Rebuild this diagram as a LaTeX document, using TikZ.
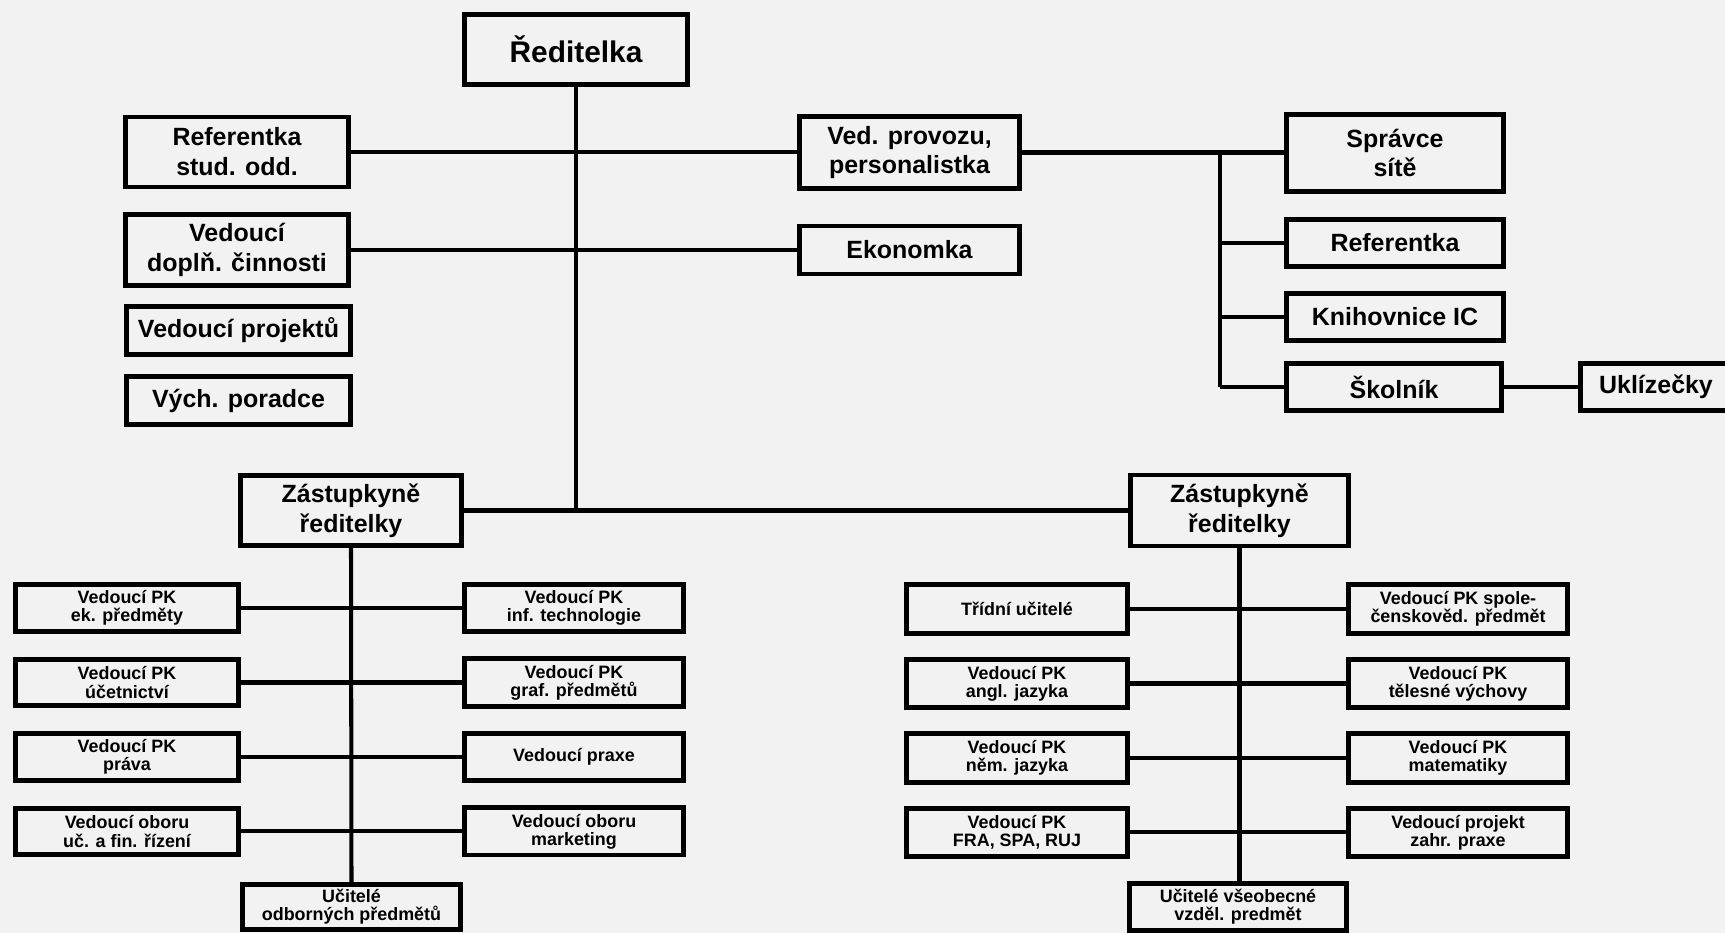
\documentclass[tikz,border=0pt]{standalone}
\usepackage{fontspec}
\setmainfont{Liberation Sans}
\usepackage{tikz}
\usepackage{xcolor}
\usetikzlibrary{positioning}
\definecolor{paper}{RGB}{242,242,242}
\tikzstyle{head} = [rectangle, draw, line width=2.8pt, minimum width=4.42cm, minimum height=1.4cm, inner sep=0pt, align=center, font=\bfseries\fontsize{14.2}{17}\selectfont]
\tikzstyle{flat} = [head, minimum height=0.96cm]
\tikzstyle{sub} = [rectangle, draw, line width=2.6pt, minimum width=4.42cm, minimum height=0.95cm, inner sep=0pt, align=center, font=\bfseries\fontsize{10.2}{10.4}\selectfont]
\tikzstyle{link} = [draw, line width=2.3pt]

\begin{document}
\begin{tikzpicture}[x=0.02cm,y=-0.02cm,node distance=1.49cm]
  \fill[paper] (0,0) rectangle (1725,933);
  \useasboundingbox (0,0) rectangle (1725,933);
  \clip (0,0) rectangle (1725,933);

  % vedeni
  \node[head, minimum width=4.46cm, font=\bfseries\fontsize{17}{20}\selectfont] (dir) at (576,49.5) {Ředitelka};
  \node[head, minimum width=4.46cm] (refstud) at (237,152) {Referentka\\stud. odd.};
  \node[head, minimum width=4.46cm, minimum height=1.42cm] (dopln) at (237,250) {Vedoucí\\doplň. činnosti};
  \node[flat, minimum width=4.48cm] (projekt) at (238.5,330.5) {Vedoucí projektů};
  \node[flat, minimum width=4.48cm] (vychpor) at (238.5,400.5) {Vých. poradce};
  \node[head, minimum width=4.4cm, minimum height=1.44cm] (provoz) at (909.5,152.5) {Ved. provozu,\\personalistka};
  \node[flat, minimum width=4.4cm] (ekon) at (909.5,250) {Ekonomka};
  \node[head, minimum width=4.34cm, minimum height=1.54cm] (spravce) at (1395,153) {Správce\\sítě};
  \node[flat, minimum width=4.34cm, minimum height=0.94cm] (referent) at (1395,243) {Referentka};
  \node[flat, minimum width=4.34cm, minimum height=0.94cm] (knihovna) at (1395,317) {Knihovnice IC};
  \node[flat, minimum width=4.3cm, minimum height=0.94cm] (skolnik) at (1394,387) {Školník};
  \node[flat, minimum width=3.02cm, minimum height=0.94cm] (uklid) at (1656,387) {Uklízečky};
  \node[head] (zastL) at (351,510.5) {Zástupkyně\\ředitelky};
  \node[head, minimum width=4.36cm, minimum height=1.42cm] (zastR) at (1239.5,510.5) {Zástupkyně\\ředitelky};

  % odborne predmety
  \node[sub, minimum width=4.47cm, minimum height=0.93cm] (ekA) at (127,608) {Vedoucí PK\\ek. předměty};
  \node[sub, minimum width=4.47cm, minimum height=0.93cm] (ucA) [below of=ekA] {Vedoucí PK\\účetnictví};
  \node[sub, minimum width=4.47cm, minimum height=0.93cm] (prA) [below of=ucA] {Vedoucí PK\\práva};
  \node[sub, minimum width=4.47cm, minimum height=0.93cm] (obA) [below of=prA] {Vedoucí oboru\\uč. a fin. řízení};
  \node[sub, minimum width=4.39cm] (itB) at (574,608) {Vedoucí PK\\inf. technologie};
  \node[sub, minimum width=4.39cm] (grB) [below of=itB] {Vedoucí PK\\graf. předmětů};
  \node[sub, minimum width=4.39cm] (pxB) [below of=grB] {Vedoucí praxe};
  \node[sub, minimum width=4.39cm] (mkB) [below of=pxB] {Vedoucí oboru\\marketing};
  \node[sub, minimum width=4.37cm, minimum height=0.91cm] (odb) at (351.5,907) {Učitelé\\odborných předmětů};

  % vseobecne predmety
  \node[sub, minimum height=0.97cm] (trC) at (1017,609) {Třídní učitelé};
  \node[sub, minimum height=0.97cm] (anC) [below of=trC] {Vedoucí PK\\angl. jazyka};
  \node[sub, minimum height=0.97cm] (neC) [below of=anC] {Vedoucí PK\\něm. jazyka};
  \node[sub, minimum height=0.97cm] (frC) [below of=neC] {Vedoucí PK\\FRA, SPA, RUJ};
  \node[sub, minimum width=4.39cm, minimum height=0.97cm] (spD) at (1458,609) {Vedoucí PK spole-\\čenskověd. předmět};
  \node[sub, minimum width=4.39cm, minimum height=0.97cm] (tvD) [below of=spD] {Vedoucí PK\\tělesné výchovy};
  \node[sub, minimum width=4.39cm, minimum height=0.97cm] (maD) [below of=tvD] {Vedoucí PK\\matematiky};
  \node[sub, minimum width=4.39cm, minimum height=0.97cm] (zpD) [below of=maD] {Vedoucí projekt\\zahr. praxe};
  \node[sub, minimum width=4.35cm] (vse) at (1238,907) {Učitelé všeobecné\\vzděl. predmět};

  \coordinate (bus) at (1220,153);

  \path[link] (dir.south) -- (dir.south |- zastL.east);
  \path[link] (zastL.east) -- (zastR.west);
  \path[link] (refstud.east) -- (refstud.east -| provoz.west);
  \path[link] (dopln.east) -- (ekon.west);
  \path[link] (provoz.east) -- (provoz.east -| spravce.west);
  \path[link] (bus) -- (bus |- skolnik.west);
  \path[link] (bus |- referent.west) -- (referent.west);
  \path[link] (bus |- knihovna.west) -- (knihovna.west);
  \path[link] (bus |- skolnik.west) -- (skolnik.west);
  \path[link] (skolnik.east) -- (uklid.west);

  \path[link] (zastL.south) -- (odb.north);
  \path[link] (ekA.east) -- (itB.west);
  \path[link] (ucA.east) -- (grB.west);
  \path[link] (prA.east) -- (pxB.west);
  \path[link] (obA.east) -- (mkB.west);

  \path[link] (zastR.south) -- (zastR.south |- vse.north);
  \path[link] (trC.east) -- (spD.west);
  \path[link] (anC.east) -- (tvD.west);
  \path[link] (neC.east) -- (maD.west);
  \path[link] (frC.east) -- (zpD.west);
\end{tikzpicture}
\end{document}
